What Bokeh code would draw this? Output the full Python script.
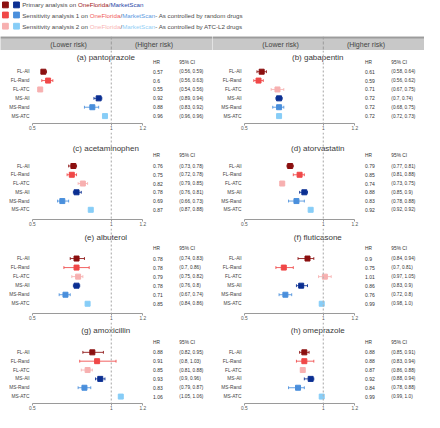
from bokeh.plotting import figure
from bokeh.models import Range1d, FixedTicker, CustomJSTickFormatter, Span
from bokeh.layouts import column, row
from bokeh.embed import file_html
from bokeh.resources import INLINE
from bokeh.core.properties import value

# ---------------- data ----------------
ANALYSES = ["FL-All", "FL-Rand", "FL-ATC", "MS-All", "MS-Rand", "MS-ATC"]
PANEL_TITLES = ["(a) pantoprazole", "(b) gabapentin", "(c) acetaminophen", "(d) atorvastatin",
                "(e) albuterol", "(f) fluticasone", "(g) amoxicillin", "(h) omeprazole"]
X_TICKS = [0.5, 1, 1.2]
HEADER_LABELS = ["(Lower risk)", "(Higher risk)"]
COL_HEADERS = ["HR", "95% CI"]

pantoprazole_hr = [0.57, 0.6, 0.55, 0.92, 0.88, 0.96]
pantoprazole_lo = [0.56, 0.56, 0.54, 0.89, 0.83, 0.96]
pantoprazole_hi = [0.59, 0.63, 0.56, 0.94, 0.92, 0.96]
gabapentin_hr = [0.61, 0.59, 0.71, 0.72, 0.72, 0.72]
gabapentin_lo = [0.58, 0.56, 0.67, 0.7, 0.68, 0.72]
gabapentin_hi = [0.64, 0.62, 0.75, 0.74, 0.75, 0.73]
acetaminophen_hr = [0.76, 0.75, 0.82, 0.78, 0.69, 0.87]
acetaminophen_lo = [0.73, 0.72, 0.79, 0.76, 0.66, 0.87]
acetaminophen_hi = [0.78, 0.78, 0.85, 0.81, 0.73, 0.88]
atorvastatin_hr = [0.79, 0.85, 0.74, 0.88, 0.83, 0.92]
atorvastatin_lo = [0.77, 0.81, 0.73, 0.85, 0.78, 0.92]
atorvastatin_hi = [0.81, 0.88, 0.75, 0.9, 0.88, 0.92]
albuterol_hr = [0.78, 0.78, 0.79, 0.78, 0.71, 0.85]
albuterol_lo = [0.74, 0.7, 0.75, 0.76, 0.67, 0.84]
albuterol_hi = [0.83, 0.86, 0.82, 0.8, 0.74, 0.86]
fluticasone_hr = [0.9, 0.75, 1.01, 0.86, 0.76, 0.99]
fluticasone_lo = [0.84, 0.7, 0.97, 0.83, 0.72, 0.98]
fluticasone_hi = [0.94, 0.81, 1.05, 0.9, 0.8, 1.0]
amoxicillin_hr = [0.88, 0.91, 0.85, 0.93, 0.83, 1.06]
amoxicillin_lo = [0.82, 0.8, 0.81, 0.9, 0.79, 1.05]
amoxicillin_hi = [0.95, 1.03, 0.88, 0.96, 0.87, 1.06]
omeprazole_hr = [0.88, 0.88, 0.87, 0.92, 0.84, 0.99]
omeprazole_lo = [0.85, 0.83, 0.86, 0.88, 0.78, 0.99]
omeprazole_hi = [0.91, 0.94, 0.88, 0.94, 0.88, 1.0]

PANEL_DATA = [
    (pantoprazole_hr, pantoprazole_lo, pantoprazole_hi),
    (gabapentin_hr, gabapentin_lo, gabapentin_hi),
    (acetaminophen_hr, acetaminophen_lo, acetaminophen_hi),
    (atorvastatin_hr, atorvastatin_lo, atorvastatin_hi),
    (albuterol_hr, albuterol_lo, albuterol_hi),
    (fluticasone_hr, fluticasone_lo, fluticasone_hi),
    (amoxicillin_hr, amoxicillin_lo, amoxicillin_hi),
    (omeprazole_hr, omeprazole_lo, omeprazole_hi),
]

# ---------------- styles ----------------
FONT = value("Liberation Sans")
TXT = "#4a4a4a"
ROW_COLORS = ["#8b0f0f", "#f04848", "#f7b0b0", "#0b2f92", "#4a8fdc", "#87cdf7"]
RED_TXT = ["#a01818", "#f05a5a", "#f8b4b4"]
BLUE_TXT = ["#2845a8", "#5a9ae0", "#93cff5"]

COL_W = 212
X0, X1 = 0.2987, 1.6405
LABEL_X, HR_X, CI_X, TITLE_X = 0.482, 1.2645, 1.4305, 0.965
AXIS_H = 8
# frame height, first row px, row spacing px, title px, col-header px
PANEL_LAYOUT = [
    (74, 21.5, 9.0, 6.8, 12.3),
    (88, 33.9, 8.86, 16.3, 22.8),
    (86, 30.4, 9.15, 9.6, 20.7),
    (82, 30.2, 8.96, 8.6, 19.9),
]

# Arial / Liberation Sans advance widths (1/1000 em)
CW = {' ': 278, '-': 333, '/': 278, 'A': 667, 'C': 722, 'F': 611, 'L': 556, 'M': 833,
      'O': 778, 'P': 667, 'S': 667, 'T': 611, 'a': 556, 'b': 556, 'c': 500, 'd': 556,
      'e': 556, 'g': 556, 'i': 222, 'k': 500, 'l': 222, 'm': 833, 'n': 556, 'o': 556,
      'r': 333, 's': 500, 't': 278, 'u': 556, 'v': 500, 'y': 500}


def text_w(s, fs):
    return sum(CW.get(c, 556) for c in s) * fs / 1000.0


# ---------------- legend ----------------
LEG_FS = 6.2
leg = figure(width=424, height=36, x_range=Range1d(0, 424), y_range=Range1d(36, 0),
             output_backend="svg", toolbar_location=None, x_axis_location=None,
             y_axis_location=None, min_border=0)
leg.outline_line_color = None
leg.grid.visible = False
legend_rows = [
    [("Primary analysis on ", TXT), ("OneFlorida", RED_TXT[0]), ("/", TXT), ("MarketScan", BLUE_TXT[0])],
    [("Sensitivity analysis 1 on ", TXT), ("OneFlorida", RED_TXT[1]), ("/", TXT),
     ("MarketScan", BLUE_TXT[1]), ("- As controlled by random drugs", TXT)],
    [("Sensitivity analysis 2 on ", TXT), ("OneFlorida", RED_TXT[2]), ("/", TXT),
     ("MarketScan", BLUE_TXT[2]), ("- As controlled by ATC-L2 drugs", TXT)],
]
leg_y = [4.4, 14.5, 25.7]
for i, segs in enumerate(legend_rows):
    y = leg_y[i]
    leg.rect(x=[4.9], y=[y], width=5.8, height=5.8, color=ROW_COLORS[i])
    leg.rect(x=[16.0], y=[y], width=5.8, height=5.8, color=ROW_COLORS[3 + i])
    x = 21.7
    for s, c in segs:
        leg.text(x=[x], y=[y], text=[s], text_font=FONT, text_font_size=value(f"{LEG_FS}px"),
                 text_color=c, text_align="left", text_baseline="middle")
        x += text_w(s, LEG_FS)


# ---------------- header band ----------------
def make_header():
    h = figure(width=COL_W, height=14, x_range=Range1d(X0, X1), y_range=Range1d(14, 0),
               output_backend="svg", toolbar_location=None, x_axis_location=None,
               y_axis_location=None, min_border=0,
               background_fill_color="#c8c8c8", border_fill_color="#c8c8c8")
    h.outline_line_color = None
    h.grid.visible = False
    h.add_layout(Span(location=1, dimension="height", line_color="#9a9a9a",
                      line_dash="3 2", line_width=1))
    h.add_layout(Span(location=1.0, dimension="width", line_color="#9c9c9c", line_width=2))
    h.text(x=[0.73, 1.27], y=[8, 8], text=HEADER_LABELS, text_font=FONT,
           text_font_size=value("7px"), text_color="#444444", text_align="center",
           text_baseline="middle")
    return h


# ---------------- panels ----------------
def make_panel(title, data, lay):
    hr, lo, hi = data
    fh, first, sp, ty, hy = lay
    top = -first / sp
    bottom = top + fh / sp
    p = figure(width=COL_W, height=fh + AXIS_H, x_range=Range1d(X0, X1),
               y_range=Range1d(bottom, top), output_backend="svg", toolbar_location=None,
               y_axis_location=None, min_border_left=0, min_border_right=0,
               min_border_top=0, min_border_bottom=AXIS_H)
    p.outline_line_color = None
    p.grid.visible = False
    ys = list(range(len(ANALYSES)))
    p.add_layout(Span(location=1, dimension="height", line_color="#b4b4b4",
                      line_dash="2 2", line_width=1.2))
    p.segment(x0=lo, y0=ys, x1=hi, y1=ys, line_color=ROW_COLORS, line_width=1, line_alpha=0.85)
    p.segment(x0=lo, y0=[y - 0.16 for y in ys], x1=lo, y1=[y + 0.16 for y in ys],
              line_color=ROW_COLORS, line_width=1, line_alpha=0.85)
    p.segment(x0=hi, y0=[y - 0.16 for y in ys], x1=hi, y1=[y + 0.16 for y in ys],
              line_color=ROW_COLORS, line_width=1, line_alpha=0.85)
    p.scatter(x=hr, y=ys, marker="square", size=5, color=ROW_COLORS)
    p.text(x=[LABEL_X] * len(ys), y=ys, text=ANALYSES, text_font=FONT,
           text_font_size=value("4.8px"), text_color="#444444", text_align="right",
           text_baseline="middle")
    p.text(x=[HR_X] * len(ys), y=ys, text=[str(v) for v in hr], text_font=FONT,
           text_font_size=value("5px"), text_color="#333333", text_align="left",
           text_baseline="middle")
    p.text(x=[CI_X] * len(ys), y=ys, text=[f"({a}, {b})" for a, b in zip(lo, hi)],
           text_font=FONT, text_font_size=value("4.7px"), text_color="#333333",
           text_align="left", text_baseline="middle")
    hrow = (hy - first) / sp
    p.text(x=[HR_X, CI_X], y=[hrow, hrow], text=COL_HEADERS, text_font=FONT,
           text_font_size=value("4.8px"), text_color="#333333", text_align="left",
           text_baseline="middle")
    p.text(x=[TITLE_X], y=[(ty - first) / sp], text=[title], text_font=FONT,
           text_font_size=value("8px"), text_color="#3a3a3a", text_align="center",
           text_baseline="middle")
    ax = p.xaxis[0]
    ax.ticker = FixedTicker(ticks=X_TICKS)
    ax.formatter = CustomJSTickFormatter(code="return tick.toString()")
    ax.bounds = (min(X_TICKS), max(X_TICKS))
    ax.axis_line_color = "#9a9a9a"
    ax.major_tick_line_color = "#9a9a9a"
    ax.major_tick_out = 2
    ax.major_tick_in = 0
    ax.minor_tick_line_color = None
    ax.major_label_standoff = 0
    ax.major_label_text_font = "Liberation Sans"
    ax.major_label_text_font_size = "4.8px"
    ax.major_label_text_color = "#555555"
    return p


panels = [make_panel(t, d, PANEL_LAYOUT[i // 2]) for i, (t, d) in enumerate(zip(PANEL_TITLES, PANEL_DATA))]

layout = column(
    leg,
    row(make_header(), make_header()),
    row(panels[0], panels[1]),
    row(panels[2], panels[3]),
    row(panels[4], panels[5]),
    row(panels[6], panels[7]),
)

open("out.html", "w").write(file_html(layout, INLINE))
